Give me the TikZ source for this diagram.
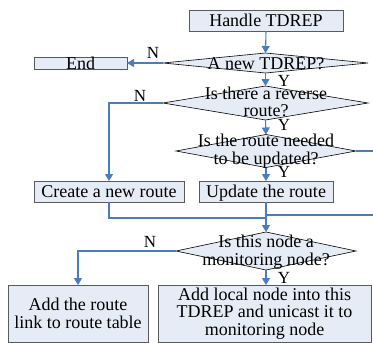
\documentclass[tikz,border=0pt]{standalone}
\usepackage{fontspec}
\setmainfont{Liberation Serif}
\usetikzlibrary{arrows.meta,shapes.geometric}
\definecolor{fillb}{HTML}{E6ECF5}
\definecolor{lineb}{HTML}{4A7CC4}
\definecolor{boxd}{HTML}{5A5A5A}
\begin{document}
\begin{tikzpicture}[x=1pt,y=-1pt,
  box/.style={draw=boxd, line width=0.9pt, fill=fillb, inner sep=0pt, outer sep=0pt,
              font=\fontsize{18}{17.5}\selectfont, align=center},
  one/.style={text height=12pt, text depth=0pt},
  dia/.style={diamond, draw=black, line width=0.6pt, fill=fillb, inner sep=0pt, outer sep=0pt},
  txt/.style={font=\fontsize{18}{17.5}\selectfont, align=center, inner sep=0pt},
  con/.style={draw=lineb, line width=1.1pt},
  arr/.style={con, -{Triangle[length=7pt,width=8pt]}},
  lab/.style={font=\fontsize{17}{17}\selectfont, inner sep=0pt}]
\useasboundingbox (0,0) rectangle (373,343);

% boxes
\node[box, one, minimum width=154pt, minimum height=21pt] (handle) at (266,20.5) {Handle TDREP};
\node[box, one, minimum width=93pt, minimum height=12pt] (end) at (80.5,63) {End};
\node[box, one, minimum width=150pt, minimum height=21pt] (create) at (109,191.5) {Create a new route};
\node[box, one, minimum width=134pt, minimum height=21pt] (update) at (266,191.5) {Update the route};
\node[box, minimum width=140pt, minimum height=57pt] (addroute) at (78,313.5) {Add the route\\link to route table};
\node[box, minimum width=213pt, minimum height=57pt] (addlocal) at (264.5,313.5) {Add local node into this\\TDREP and unicast it to\\monitoring node};

% diamonds
\node[dia, minimum width=205pt, minimum height=20pt] (d1) at (265.5,63) {};
\node[txt, one] (d1t) at (266,63) {A new TDREP?};
\node[dia, minimum width=205pt, minimum height=34pt] (d2) at (265.5,103) {};
\node[txt] (d2t) at (266,102) {Is there a reverse\\route?};
\node[dia, minimum width=180pt, minimum height=33pt] (d3) at (266,151) {};
\node[txt] (d3t) at (266,151) {Is the route needed\\to be updated?};
\node[dia, minimum width=180pt, minimum height=38pt] (d4) at (266,251) {};
\node[txt] (d4t) at (266,252) {Is this node a\\monitoring node?};

% free ends
\coordinate (r3) at (373,151);
\coordinate (r4) at (373,215);
\coordinate (m4) at (266,215);
\coordinate (c1) at (109,218);
\coordinate (m1) at (266,218);

% connectors
\draw[arr] (handle.south) -- (d1.north);
\draw[arr] (d1.west) -- (end.east);
\draw[arr] (d1.south) -- (d2.north);
\draw[arr] (d2.west) -| (create.north);
\draw[arr] (d2.south) -- (d3.north);
\draw[arr] (d3.south) -- (update.north);
\draw[con] (d3.east) -- (r3);
\draw[con] (r4) -- (m4);
\draw[con] (create.south) -- (c1) -- (m1);
\draw[arr] (update.south) -- (d4.north);
\draw[arr] (d4.west) -| (addroute.north);
\draw[arr] (d4.south) -- (d4.south |- addlocal.north);

% labels
\node[lab] (n1) at (153,53) {N};
\node[lab] (y1) at (284,81) {Y};
\node[lab] (n2) at (140,96) {N};
\node[lab] (y2) at (284,125) {Y};
\node[lab] (y3) at (284,172) {Y};
\node[lab] (n3) at (150,242) {N};
\node[lab] (y4) at (284,278) {Y};
\end{tikzpicture}
\end{document}
